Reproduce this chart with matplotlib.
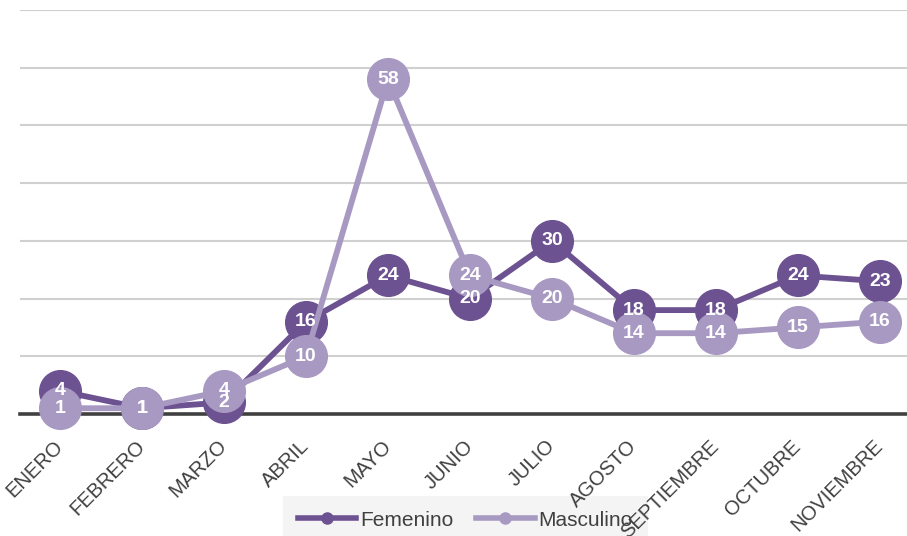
import matplotlib
matplotlib.use("Agg")
import matplotlib.pyplot as plt

# Datos por mes
meses = ['ENERO', 'FEBRERO', 'MARZO', 'ABRIL', 'MAYO', 'JUNIO', 'JULIO',
         'AGOSTO', 'SEPTIEMBRE', 'OCTUBRE', 'NOVIEMBRE']
femenino = [4, 1, 2, 16, 24, 20, 30, 18, 18, 24, 23]
masculino = [1, 1, 4, 10, 58, 24, 20, 14, 14, 15, 16]

c_fem = '#6D5291'
c_mas = '#A899C2'

plt.rcParams['font.family'] = ['Liberation Sans', 'DejaVu Sans']

fig = plt.figure(figsize=(9.07, 5.36), dpi=100)
ax = fig.add_axes([20/907, 1 - 414/536, 887/907, 404/536])
ax.patch.set_visible(False)

x = list(range(len(meses)))
ax.plot(x, femenino, color=c_fem, lw=4.2, marker='o', ms=30,
        label='Femenino', clip_on=False, zorder=3)
ax.plot(x, masculino, color=c_mas, lw=4.2, marker='o', ms=30,
        label='Masculino', clip_on=False, zorder=4)

for xi, v in zip(x, femenino):
    ax.text(xi, v, str(v), color='white', fontsize=14, fontweight='bold',
            ha='center', va='center', zorder=6)
for xi, v in zip(x, masculino):
    ax.text(xi, v, str(v), color='white', fontsize=14, fontweight='bold',
            ha='center', va='center', zorder=6)

ax.set_xlim(-40/82, 10 + 27/82)
ax.set_ylim(0, 70)
ax.set_yticks(range(10, 71, 10))
ax.yaxis.grid(True, color='#D0D0D0', lw=1.5)
ax.set_axisbelow(True)
ax.tick_params(axis='y', left=False, labelleft=False)
ax.axhline(0, color='#404040', lw=2.6, zorder=2, clip_on=False)

ax.set_xticks(x)
ax.set_xticklabels(meses, rotation=45, ha='right', va='center',
                   rotation_mode='anchor', fontsize=14.5, color='#404040')
ax.tick_params(axis='x', length=0, pad=21)

for s in ax.spines.values():
    s.set_visible(False)

h1, = ax.plot([], [], color=c_fem, lw=4, marker='o', ms=8)
h2, = ax.plot([], [], color=c_mas, lw=4, marker='o', ms=8)
leg = fig.legend([h1, h2], ['Femenino', 'Masculino'], loc='lower center',
                 bbox_to_anchor=(0.513, -0.035), ncol=2, frameon=True,
                 fontsize=15, handlelength=2.8, columnspacing=1.1,
                 handletextpad=0.2, borderpad=0.7, fancybox=False)
leg.get_frame().set_facecolor('#F2F2F2')
leg.get_frame().set_edgecolor('none')
leg.set_zorder(-1)
for t in leg.get_texts():
    t.set_color('#404040')

fig.savefig('out.png', dpi=100, facecolor='white')
